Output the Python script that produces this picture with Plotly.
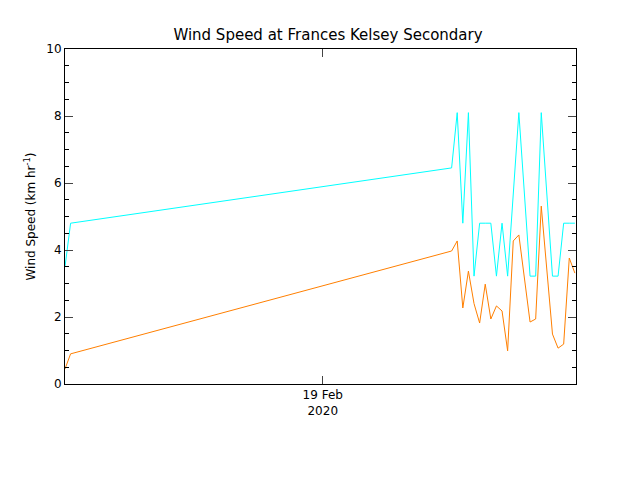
import pandas as pd
import plotly.graph_objects as go

# hours after 17 Feb 2020 02:00
hours = [0, 1, 69, 70, 71, 72, 73, 74, 75, 76, 77, 78, 79, 80, 81, 83, 84, 85, 87, 88, 89, 90, 91]
gust = [3.5, 4.8, 6.45, 8.1, 4.8, 8.1, 3.22, 4.8, 4.8, 4.8, 3.22, 4.8, 3.22, 5.7, 8.1,
        3.22, 3.22, 8.1, 3.22, 3.22, 4.8, 4.8, 4.8]
speed = [0.45, 0.9, 3.97, 4.27, 2.27, 3.37, 2.4, 1.82, 2.98, 1.94, 2.33, 2.18, 0.99, 4.27,
         4.45, 1.85, 1.94, 5.31, 1.49, 1.07, 1.19, 3.76, 3.31]

start = pd.Timestamp("2020-02-17 02:00")
times = [start + pd.Timedelta(hours=h) for h in hours]

fig = go.Figure()
fig.add_trace(go.Scatter(x=times, y=gust, mode="lines", line=dict(color="#00ffff", width=1)))
fig.add_trace(go.Scatter(x=times, y=speed, mode="lines", line=dict(color="#ff7f00", width=1)))

fig.update_layout(
    width=640, height=480,
    margin=dict(l=57, r=72, t=41, b=104),
    paper_bgcolor="white", plot_bgcolor="white",
    showlegend=False,
    font=dict(family="DejaVu Sans", size=12, color="black"),
    title=dict(text="Wind Speed at Frances Kelsey Secondary", x=0.5, y=0.955,
               xanchor="center", font=dict(size=15)),
)
fig.update_xaxes(
    range=[start, start + pd.Timedelta(hours=91.2)],
    tickvals=[pd.Timestamp("2020-02-19")], ticktext=["19 Feb<br>2020"],
    ticks="inside", ticklen=8, mirror="ticks", showline=True, linecolor="black",
    showgrid=False, zeroline=False,
)
fig.update_yaxes(
    range=[0, 10], dtick=2, ticks="inside", ticklen=8, mirror="ticks",
    showline=True, linecolor="black", showgrid=False, zeroline=False,
    minor=dict(dtick=0.5, ticks="inside", ticklen=4, tickcolor="black"),
    title=dict(text="Wind Speed (km hr<sup>-1</sup>)", standoff=8, font=dict(size=12)),
)

fig.write_html("out.html")
